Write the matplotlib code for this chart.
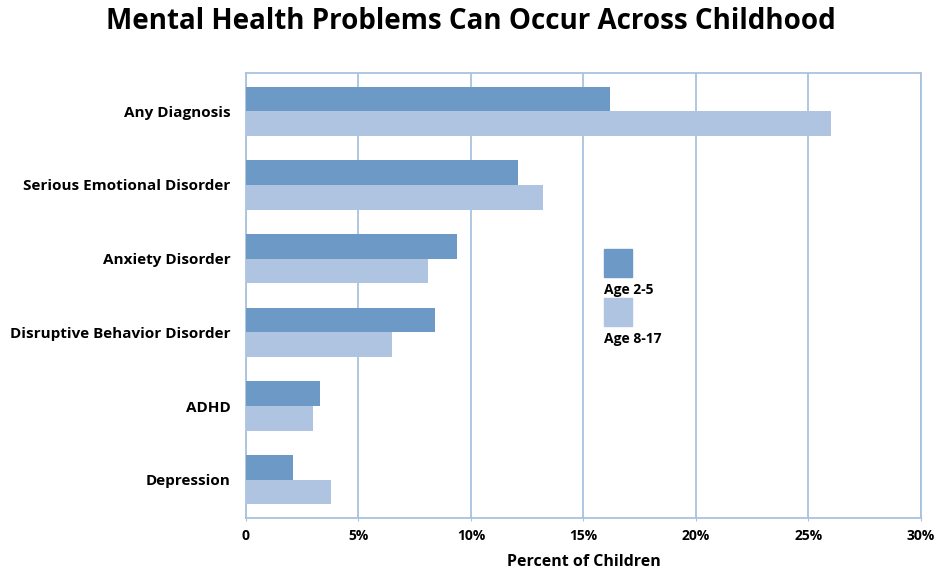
import matplotlib
matplotlib.use("Agg")
import matplotlib.pyplot as plt
import numpy as np
from matplotlib.patches import Rectangle

categories = ["Any Diagnosis", "Serious Emotional Disorder", "Anxiety Disorder",
              "Disruptive Behavior Disorder", "ADHD", "Depression"]
age_2_5 = [16.2, 12.1, 9.4, 8.4, 3.3, 2.1]
age_8_17 = [26.0, 13.2, 8.1, 6.5, 3.0, 3.8]
series_labels = ["Age 2-5", "Age 8-17"]
xticks = [0, 5, 10, 15, 20, 25, 30]
xtick_labels = ["0", "5%", "10%", "15%", "20%", "25%", "30%"]

DARK = "#6c99c5"
LIGHT = "#aec4e0"
GRID = "#a9c3df"

plt.rcParams["font.family"] = ["Open Sans", "DejaVu Sans"]

fig = plt.figure(figsize=(9.42, 5.76), dpi=100)
ax = fig.add_axes([0.2611, 0.1007, 0.7166, 0.7726])

y = np.arange(len(categories))
h = 0.335
ax.barh(y - h / 2, age_2_5, height=h, color=DARK, zorder=3)
ax.barh(y + h / 2, age_8_17, height=h, color=LIGHT, zorder=3)

ax.set_xlim(0, 30)
ax.set_ylim(5.52, -0.52)
ax.set_xticks(xticks)
ax.set_xticklabels(xtick_labels, fontsize=10, fontweight="bold")
ax.set_yticks(y)
ax.set_yticklabels(categories, fontsize=11, fontweight="bold")
ax.tick_params(axis="y", length=0, pad=11)
ax.tick_params(axis="x", length=4, color=GRID, direction="inout", pad=6)
ax.grid(axis="x", color=GRID, lw=1.3, zorder=0)
for s in ax.spines.values():
    s.set_color(GRID)
    s.set_linewidth(1.3)

ax.set_xlabel("Percent of Children", fontsize=11.5, fontweight="bold", labelpad=8)

fig.text(0.5, 0.963, "Mental Health Problems Can Occur Across Childhood",
         ha="center", va="center", fontsize=20, fontweight="bold")

# legend: stacked squares with labels below
for i, (lab, col) in enumerate(zip(series_labels, [DARK, LIGHT])):
    top = 249 + i * 49
    fig.patches.append(Rectangle((604 / 942, 1 - (top + 28) / 576), 28 / 942, 28 / 576,
                                 transform=fig.transFigure, color=col, zorder=5))
    fig.text(604 / 942, 1 - (top + 41) / 576, lab, ha="left", va="center",
             fontsize=10, fontweight="bold")

fig.savefig("out.png", dpi=100)
